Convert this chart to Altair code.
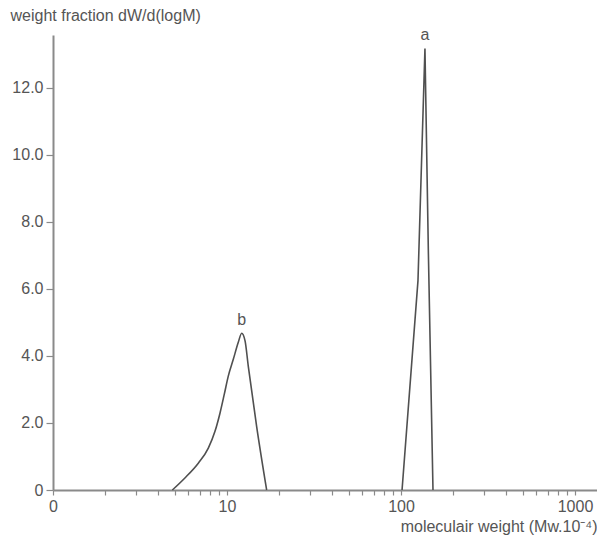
import altair as alt
import pandas as pd

# Peak a (narrow distribution)
a_mw = [101.4, 125.2, 137.3, 143.6, 152.7]
a_wf = [0.0, 6.25, 13.18, 7.14, 0.0]

# Peak b (broad distribution)
b_mw = [4.85, 5.73, 6.84, 7.81, 8.53, 9.12, 9.65, 10.17, 10.87, 11.6, 12.15, 12.7, 13.25, 14.8, 16.9]
b_wf = [0.0, 0.36, 0.80, 1.25, 1.75, 2.30, 2.86, 3.40, 3.90, 4.40, 4.68, 4.45, 3.7, 1.9, 0.0]

peak_names = ["a", "b"]
peak_mw = [137.3, 12.15]
peak_wf = [13.18, 4.68]

x_ticks = [m * 10 ** e for e in range(0, 3) for m in range(1, 10)] + [1000]
y_ticks = list(range(0, 14))

df_a = pd.DataFrame({"i": range(len(a_mw)), "mw": a_mw, "wf": a_wf})
df_b = pd.DataFrame({"i": range(len(b_mw)), "mw": b_mw, "wf": b_wf})
peaks = pd.DataFrame({"name": peak_names, "mw": peak_mw, "wf": peak_wf})

FONT = "Liberation Sans"
AXC = "#8a8a8a"
TXT = "#555555"
FS = 16

x_scale = alt.Scale(type="log", domain=[1, 1338], nice=False)
y_scale = alt.Scale(domain=[0, 13.58], nice=False, zero=True)

x_axis = alt.Axis(
    values=x_ticks,
    labelExpr="datum.value == 1 ? '0' : (datum.value == 10 || datum.value == 100 || datum.value == 1000 ? datum.value + '' : '')",
    tickSize=5, tickColor=AXC, tickWidth=1.2,
    domainColor=AXC, domainWidth=2,
    labelFont=FONT, labelFontSize=FS, labelColor=TXT, labelPadding=3,
    labelFlush=False, labelOverlap=False,
    grid=False,
    title="moleculair weight (Mw.10⁻⁴)",
    titleFont=FONT, titleFontSize=FS, titleFontWeight="normal", titleColor=TXT,
    titleAnchor="end", titleAlign="right", titleX=544, titleY=36, titleBaseline="middle",
)
y_axis = alt.Axis(
    values=y_ticks,
    labelExpr="datum.value == 0 ? '0' : (datum.value % 2 == 0 ? format(datum.value, '.1f') : '')",
    tickSize=7, tickColor=AXC, tickWidth=1.2,
    domainColor=AXC, domainWidth=2,
    labelFont=FONT, labelFontSize=FS, labelColor=TXT, labelPadding=3,
    labelFlush=False, labelOverlap=False,
    grid=False,
    title="weight fraction dW/d(logM)",
    titleFont=FONT, titleFontSize=FS, titleFontWeight="normal", titleColor=TXT,
    titleAngle=0, titleAlign="left", titleBaseline="middle", titleX=-43, titleY=-20,
)

line_a = alt.Chart(df_a).mark_line(color="#505050", strokeWidth=1.6).encode(
    x=alt.X("mw:Q", scale=x_scale, axis=x_axis),
    y=alt.Y("wf:Q", scale=y_scale, axis=y_axis),
    order="i:Q",
)
line_b = alt.Chart(df_b).mark_line(color="#505050", strokeWidth=1.6, interpolate="monotone").encode(
    x=alt.X("mw:Q", scale=x_scale),
    y=alt.Y("wf:Q", scale=y_scale),
    order="i:Q",
)

labels = alt.Chart(peaks).mark_text(
    font=FONT, fontSize=FS, color=TXT, dy=-13, baseline="middle"
).encode(
    x=alt.X("mw:Q", scale=x_scale),
    y=alt.Y("wf:Q", scale=y_scale),
    text="name:N",
)

chart = alt.layer(line_a, line_b, labels).properties(
    width=544, height=455,
    padding={"left": 53, "top": 35, "right": 0, "bottom": 56},
    autosize=alt.AutoSizeParams(type="none"),
    background="white",
).configure_view(stroke=None)

chart.save("out.html", embed_options={"renderer": "svg", "actions": False})
